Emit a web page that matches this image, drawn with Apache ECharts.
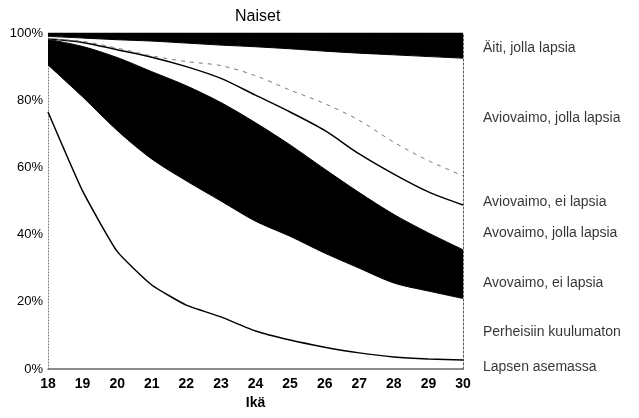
<!DOCTYPE html>
<html>
<head>
<meta charset="utf-8">
<script src="https://cdn.jsdelivr.net/npm/echarts@6/dist/echarts.min.js"></script>
<style>
  html, body { margin: 0; padding: 0; background: #fff; }
  #chart { width: 639px; height: 418px; }
</style>
</head>
<body>
<div id="chart"></div>
<script>
// ikä
const ages = ["18", "19", "20", "21", "22", "23", "24", "25", "26", "27", "28", "29", "30"];

// osuudet (%), alhaalta ylös pinottuna
const lapsenAsemassa = [76.5, 53, 35, 25, 19, 15.5, 11.3, 8.6, 6.5, 4.8, 3.6, 3, 2.7];
const perheisiinKuulumaton = [14, 28, 36, 37.5, 37, 34.5, 32.7, 30.9, 28, 25.2, 22, 20.2, 18.3];
const avovaimoEiLapsia = [7.6, 15, 21.7, 26, 28.3, 29.3, 29.3, 27.2, 25, 22.5, 20.4, 17.3, 14.5];
const avovaimoJollaLapsia = [0.1, 1.2, 2.3, 4.3, 5.7, 7.2, 8.2, 9.8, 11.5, 11.5, 12, 12.2, 13.3];
const aviovaimoEiLapsia = [0.1, 0.3, 0.5, 0.4, 1.5, 3.8, 5.8, 6.5, 8, 10, 9.5, 9.3, 8.7];
const aviovaimoJollaLapsia = [0.7, 1, 2.5, 4.4, 5.5, 6.1, 8.6, 12.3, 15.6, 20, 26, 31, 35];
const aitiJollaLapsia = [1, 1.5, 2, 2.4, 3, 3.6, 4.1, 4.7, 5.4, 6, 6.5, 7, 7.5];

// selitteet oikealla ja niiden taso (%)
const labelNames = ["Äiti, jolla lapsia", "Aviovaimo, jolla lapsia", "Aviovaimo, ei lapsia",
  "Avovaimo, jolla lapsia", "Avovaimo, ei lapsia", "Perheisiin kuulumaton", "Lapsen asemassa"];
const labelLevels = [95.5, 74.7, 49.7, 40.5, 25.6, 11, 0.6];

const yTicks = [0, 20, 40, 60, 80, 100];

const FONT = "'Liberation Sans', Arial, sans-serif";

const chart = echarts.init(document.getElementById("chart"));

const band = (name, data, filled, line, smooth) => ({
  name: name,
  type: "line",
  stack: "total",
  data: data,
  smooth: smooth,
  showSymbol: false,
  silent: true,
  lineStyle: line,
  areaStyle: filled ? { color: "#000", opacity: 1 } : undefined
});

const option = {
  animation: false,
  title: {
    text: "Naiset",
    left: 230,
    top: 4,
    textStyle: { fontFamily: FONT, fontSize: 16, fontWeight: "normal", color: "#000" }
  },
  grid: { left: 48, right: 176, top: 33, bottom: 49 },
  xAxis: {
    type: "category",
    data: ages,
    boundaryGap: false,
    name: "Ikä",
    nameLocation: "middle",
    nameGap: 23,
    nameTextStyle: { fontFamily: FONT, fontSize: 14, fontWeight: "bold", color: "#000" },
    axisLine: { show: true, lineStyle: { color: "#666", width: 1.5 } },
    axisTick: { show: false },
    axisLabel: { margin: 8, fontFamily: FONT, fontSize: 14, fontWeight: "bold", color: "#000" },
    splitLine: { show: false }
  },
  yAxis: [
    {
      type: "value",
      min: yTicks[0],
      max: yTicks[yTicks.length - 1],
      interval: 20,
      axisLine: { show: true, lineStyle: { color: "#777", width: 1, type: [1, 2] } },
      axisTick: { show: false },
      splitLine: { show: false },
      axisLabel: { formatter: "{value}%", margin: 5, fontFamily: FONT, fontSize: 13, color: "#000" }
    },
    {
      type: "value",
      position: "right",
      min: yTicks[0],
      max: yTicks[yTicks.length - 1],
      interval: 20,
      axisLine: { show: true, lineStyle: { color: "#555", width: 1, type: [2, 2] } },
      axisTick: { show: false },
      axisLabel: { show: false },
      splitLine: { show: false }
    }
  ],
  series: [
    band("Lapsen asemassa", lapsenAsemassa, false, { color: "#000", width: 1.5 }, 0.15),
    band("Perheisiin kuulumaton", perheisiinKuulumaton, false, { color: "#000", width: 1 }, 0.3),
    band("Avovaimo, ei lapsia", avovaimoEiLapsia, true, { color: "#000", width: 1 }, 0.3),
    band("Avovaimo, jolla lapsia", avovaimoJollaLapsia, false, { color: "#000", width: 1.5 }, 0.3),
    band("Aviovaimo, ei lapsia", aviovaimoEiLapsia, false, { color: "#777", width: 1, type: [4, 5] }, 0.3),
    band("Aviovaimo, jolla lapsia", aviovaimoJollaLapsia, false, { color: "#000", width: 1 }, 0.3),
    band("Äiti, jolla lapsia", aitiJollaLapsia, true, { color: "#000", width: 1 }, 0.3),
    {
      name: "selitteet",
      type: "scatter",
      silent: true,
      symbolSize: 0,
      data: labelNames.map((n, i) => ({ name: n, value: [ages[ages.length - 1], labelLevels[i]] })),
      label: {
        show: true,
        position: "right",
        distance: 20,
        formatter: "{b}",
        fontFamily: FONT,
        fontSize: 14,
        color: "#000"
      }
    }
  ]
};

chart.setOption(option);
</script>
</body>
</html>
